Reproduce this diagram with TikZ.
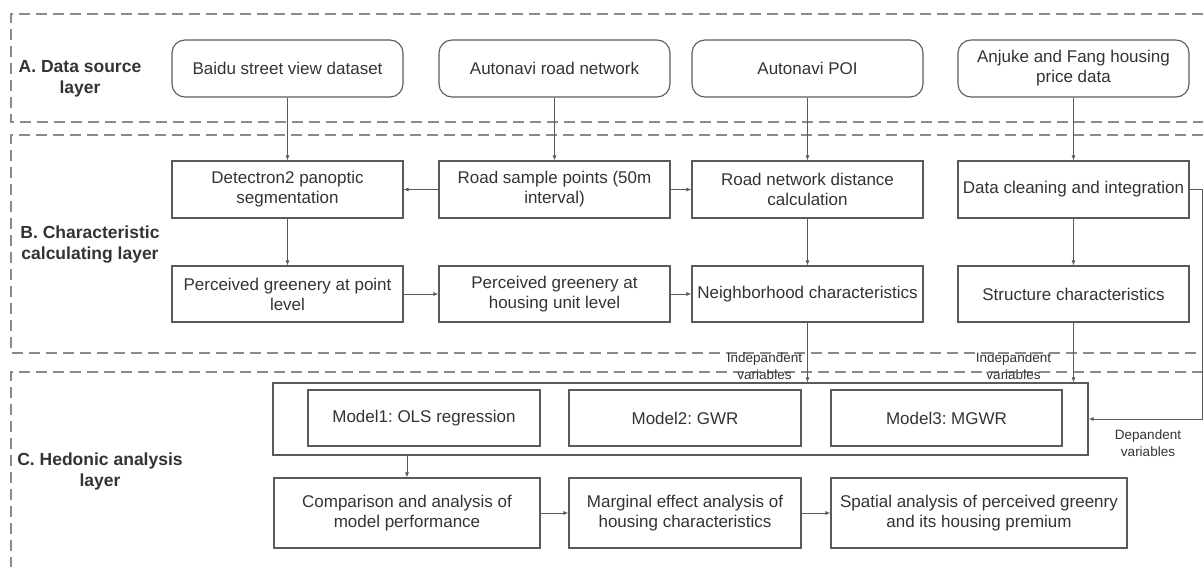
\documentclass[tikz,border=0pt]{standalone}
\usepackage{fontspec}
\setmainfont{Liberation Sans}
\usetikzlibrary{arrows.meta}
\definecolor{boxline}{HTML}{5A5A5A}
\definecolor{txt}{HTML}{333333}
\definecolor{dashline}{HTML}{8A8A8A}
\frenchspacing

\begin{document}
\begin{tikzpicture}[x=1pt,y=-1pt,
  every node/.style={text=txt,font=\fontsize{17}{20}\selectfont},
  src node/.style={rectangle,rounded corners=13pt,draw=boxline,line width=1.1pt,minimum width=231pt,minimum height=57pt,align=center,inner sep=2pt},
  calc node/.style={rectangle,draw=boxline,line width=1.1pt,minimum width=231pt,minimum height=57pt,align=center,inner sep=2pt},
  layer label/.style={font=\bfseries\fontsize{17.5}{21}\selectfont,align=center},
  var label/.style={font=\fontsize{13.5}{17}\selectfont,align=center,inner sep=0pt},
  layer line/.style={draw=dashline,line width=1.2pt,dash pattern=on 11pt off 6pt},
  flow/.style={draw=boxline,line width=1pt,-{Latex[length=5pt,width=4pt]}}]%
  \useasboundingbox (0,0) rectangle (1203,567);
  \pgfmathsetmacro{\xa}{287.5}
  \pgfmathsetmacro{\xb}{554.5}
  \pgfmathsetmacro{\xc}{807.5}
  \pgfmathsetmacro{\xd}{1073.5}
  \pgfmathsetmacro{\ya}{68.5}
  \pgfmathsetmacro{\yb}{189.5}
  \pgfmathsetmacro{\yc}{294}
  \pgfmathsetmacro{\yd}{419}
  \pgfmathsetmacro{\ye}{513}

  % layers
  \foreach \t/\b in {14/122,135/353}
  \draw[layer line] (1203,\t) -| (11,\b) -- (1203,\b);
  \draw[layer line] (1203,372) -| (11,567);
  \node[layer label] (la) at (80,78.5) {A. Data source\\layer};
  \node[layer label] (lb) at (90,244.5) {B. Characteristic\\calculating layer};
  \node[layer label] (lc) at (100,471) {C. Hedonic analysis\\layer};

  % data sources
  \node[src node] (baidu) at (\xa,\ya) {Baidu street view dataset};
  \node[src node] (road) at (\xb,\ya) {Autonavi road network};
  \node[src node] (poi) at (\xc,\ya) {Autonavi POI};
  \node[src node] (price) at (\xd,\ya) {Anjuke and Fang housing\\price data};

  % characteristics
  \node[calc node] (seg) at (\xa,\yb) {Detectron2 panoptic\\segmentation};
  \node[calc node] (sample) at (\xb,\yb) {Road sample points (50m\\interval)};
  \node[calc node] (dist) at (\xc,\yb) {Road network distance\\calculation};
  \node[calc node] (clean) at (\xd,\yb) {Data cleaning and integration};
  \node[calc node,minimum height=56pt] (greenpt) at (\xa,\yc) {Perceived greenery at point\\level};
  \node[calc node,minimum height=56pt] (greenunit) at (\xb,\yc) {Perceived greenery at\\housing unit level};
  \node[calc node,minimum height=56pt] (neigh) at (\xc,\yc) {Neighborhood characteristics};
  \node[calc node,minimum height=56pt] (struct) at (\xd,\yc) {Structure characteristics};

  % hedonic models
  \node[calc node,minimum width=815pt,minimum height=72pt] (models) at (680.5,\yd) {};
  \node[calc node,minimum width=232pt,minimum height=56pt] (ols) at (424,418) {Model1: OLS regression};
  \node[calc node,minimum width=232pt,minimum height=56pt] (gwr) at (685,418) {Model2: GWR};
  \node[calc node,minimum height=56pt] (mgwr) at (946.5,418) {Model3: MGWR};
  \node[calc node,minimum width=266pt,minimum height=70pt] (compare) at (407,\ye) {Comparison and analysis of\\model performance};
  \node[calc node,minimum width=232pt,minimum height=70pt] (marginal) at (685,\ye) {Marginal effect analysis of\\housing characteristics};
  \node[calc node,minimum width=296pt,minimum height=70pt] (spatial) at (979,\ye) {Spatial analysis of perceived greenry\\and its housing premium};

  \foreach \s/\t in {baidu/seg,road/sample,poi/dist,price/clean,seg/greenpt,dist/neigh,clean/struct,sample/seg,sample/dist,greenpt/greenunit,greenunit/neigh,compare/marginal,marginal/spatial}
  \draw[flow] (\s) -- (\t);
  \draw[flow] (neigh) -- (neigh |- models.north);
  \draw[flow] (struct) -- (struct |- models.north);
  \draw[flow] (clean.east) -- ++(13,0) |- (models.east);
  \draw[flow] (compare |- models.south) -- (compare);
  \node[var label] (indepa) at (764.5,366.5) {Indepandent\\variables};
  \node[var label] (indepb) at (1013.5,366.5) {Indepandent\\variables};
  \node[var label] (dep) at (1148,443.5) {Depandent\\variables};
\end{tikzpicture}
\end{document}
